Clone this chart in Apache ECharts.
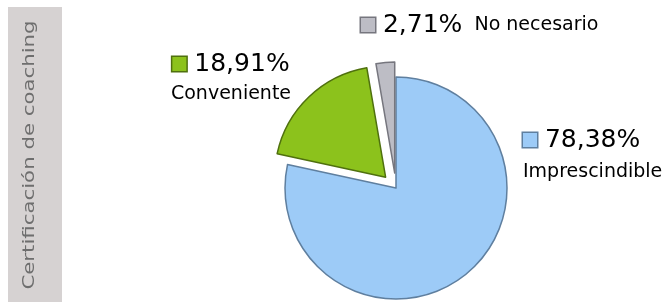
<!DOCTYPE html>
<html>
<head>
<meta charset="utf-8">
<script src="https://cdn.jsdelivr.net/npm/echarts@6/dist/echarts.min.js"></script>
<style>
  html, body { margin: 0; padding: 0; background: #fff; }
  #chart { width: 666px; height: 302px; }
</style>
</head>
<body>
<div id="chart"></div>
<script>
// data
var categories = ['Imprescindible', 'Conveniente', 'No necesario']
var shares = [78.38, 18.91, 2.71]
var exploded = [false, true, true]
var fills = ['#9dcbf7', '#8cc21c', '#bdbdc5']
var edges = ['#5f7f9f', '#4f700e', '#76767e']
var sideTitle = 'Certificación de coaching'

// where each slice's label sits (top edge, alignment)
var labelSpots = [
  { x: 523, y: 125, align: 'left', oneLine: false, gap: 34 },
  { x: 231, y: 49, align: 'center', oneLine: false, gap: 30 },
  { x: 361, y: 10, align: 'left', oneLine: true, gap: 30 }
]

var FONT = '"DejaVu Sans", sans-serif'

function fmt(v) {
  return v.toFixed(2).replace('.', ',') + '%'
}

var chart = echarts.init(document.getElementById('chart'))

var pieData = categories.map(function(name, i) {
  return {
    name: name,
    value: shares[i],
    selected: exploded[i],
    itemStyle: { color: fills[i], borderColor: edges[i], borderWidth: 1.5 },
    select: { itemStyle: { color: fills[i], borderColor: edges[i], borderWidth: 1.5 } }
  }
})

function richFor(i) {
  var r = {
    pct: { fontFamily: FONT, fontSize: 25, color: '#3a3a3a', lineHeight: 30 },
    name: { fontFamily: FONT, fontSize: 19, color: '#333', lineHeight: labelSpots[i].gap }
  }
  r.sq = { width: 14, height: 14, backgroundColor: fills[i], borderColor: edges[i], borderWidth: 1.5 }
  return r
}

var labelTexts = categories.map(function(name, i) {
  var s = labelSpots[i]
  var head = '{sq|}{pct| ' + fmt(shares[i]) + '}'
  return {
    type: 'text',
    x: s.x, y: s.y,
    silent: true,
    style: {
      text: s.oneLine ? head + '{name|  ' + name + '}' : head + '\n{name|' + name + '}',
      rich: richFor(i),
      align: s.align,
      verticalAlign: 'top'
    }
  }
})

chart.setOption({
  animation: false,
  graphic: [
    {
      type: 'rect',
      left: 8, top: 7,
      shape: { width: 54, height: 295 },
      style: { fill: '#d6d2d2' },
      silent: true
    },
    {
      type: 'text',
      x: 30, y: 155,
      rotation: Math.PI / 2,
      scaleX: 1.33,
      style: {
        text: sideTitle,
        fontFamily: FONT,
        fontSize: 16,
        fill: '#6e6e6e',
        align: 'center',
        verticalAlign: 'middle'
      },
      silent: true
    }
  ].concat(labelTexts),
  series: [
    {
      type: 'pie',
      center: [396, 188],
      radius: 111,
      startAngle: 90,
      clockwise: true,
      selectedMode: 'multiple',
      selectedOffset: 15,
      data: pieData,
      label: { show: false },
      labelLine: { show: false },
      emphasis: { disabled: true }
    }
  ]
})
</script>
</body>
</html>
